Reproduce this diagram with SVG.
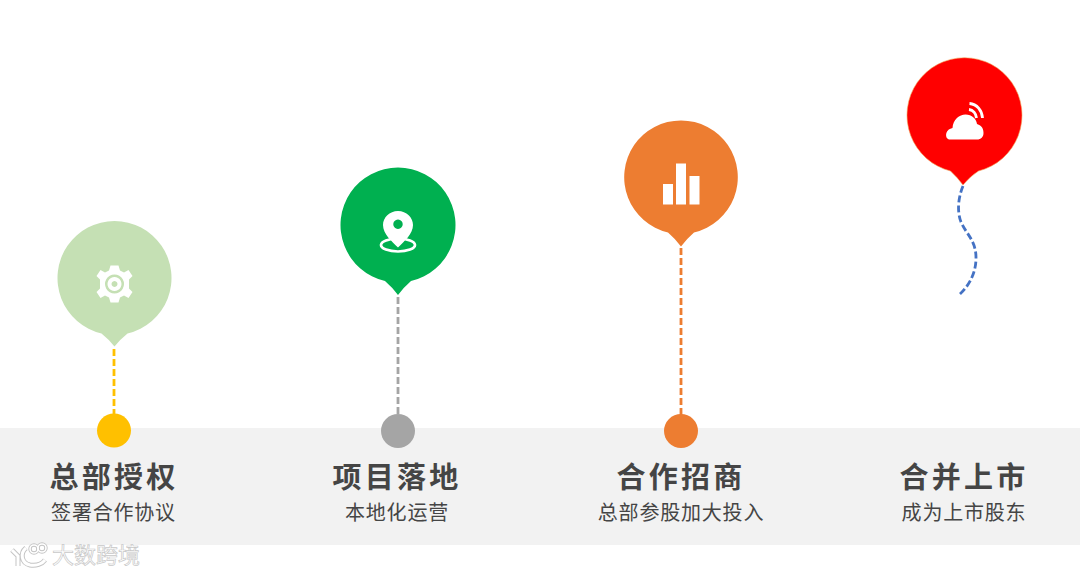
<svg xmlns="http://www.w3.org/2000/svg" width="1080" height="575" viewBox="0 0 1080 575">
<style>
text{font-family:"Noto Sans CJK SC","Noto Sans",sans-serif;text-anchor:middle;fill:#454545}
.t{font-size:29px;font-weight:700;letter-spacing:3.300px}
.s{font-size:20px;letter-spacing:.8px}
.c{fill:none;stroke-width:2.800;stroke-dasharray:7 3}
.w{fill:#fff}
.wm{font-size:22px;fill:#fff;stroke:#c8c8c8;stroke-width:.7;text-anchor:start}
.wb{fill:none;stroke:#c4c4c4}
.wl{fill:none;stroke:#fff}
</style>
<rect id="band" x="0" y="428" width="1080" height="117" fill="#f2f2f2"/>
<g id="connectors">
<path class="c" stroke="#ffc000" d="M114 349V414"/>
<path class="c" stroke="#a5a5a5" d="M398 297V414"/>
<path class="c" stroke="#ed7d31" d="M681 248V415"/>
<path class="c" stroke="#4472c4" d="M963 186C958 198 957 212 961 222C966 234 976 240 976 258C976 272 970 285 959 295"/>
</g>
<g id="node-1">
<path fill="#c5e0b4" d="M101.500 333.500A57 57 0 1 1 127.500 333.500Q120.500 339 114.500 346.500Q108.500 339 101.500 333.500Z"/>
<path class="w" fill-rule="evenodd" transform="translate(114.500 284)" d="M-4-18.500H4L5.500-13.500L9.500-11.500L14-14L18-8L14.500-4.500V4.500L18 8L14 14L9.500 11.500L5.500 13.500L4 18.500H-4L-5.500 13.500L-9.500 11.500L-14 14L-18 8L-14.500 4.500V-4.500L-18-8L-14-14L-9.500-11.500L-5.500-13.500ZM0-9.500A9.500 9.500 0 1 0 .01-9.500ZM0-7A7 7 0 1 1-.01-7ZM0-3A3 3 0 1 0 .01-3Z"/>
</g>
<g id="node-2">
<path fill="#00b050" d="M385 281A57.500 57.500 0 1 1 411 281Q404 287 398 295Q392 287 385 281Z"/>
<path class="w" fill-rule="evenodd" d="M398 211C389.500 211 383 217.500 383 225C383 234 392 241.500 398 247.500C404 241.500 413 234 413 225C413 217.500 406.500 211 398 211ZM398 219.500A4.700 4.700 0 1 1 397.990 219.500Z"/>
<ellipse cx="398" cy="245" rx="17" ry="6.500" fill="none" stroke="#fff" stroke-width="2.700"/>
</g>
<g id="node-3">
<path fill="#ed7d31" d="M668 232.500A56.800 56.800 0 1 1 694 232.500Q687 238.500 681 246.500Q675 238.500 668 232.500Z"/>
<rect class="w" x="663" y="184" width="10" height="20.500"/>
<rect class="w" x="676" y="163.500" width="10" height="41"/>
<rect class="w" x="689.500" y="176" width="10" height="28.500"/>
</g>
<g id="node-4">
<path fill="#ff0000" stroke="#f2a65a" stroke-width=".6" d="M950.500 171A57.500 57.500 0 1 1 978.500 171Q970.500 176 963 185Q957 177 950.500 171Z"/>
<path class="w" d="M950 139.500C944.500 139.500 944.500 129.500 952.500 128C953 119.500 959.500 114.500 965.500 114.500C972 114.500 976.500 119 977 124C982 125.500 983.500 129 983.500 133C983.500 137 981 139.500 977 139.500Z"/>
<path fill="none" stroke="#fff" stroke-width="2.800" d="M969 109.500C973 110 976 113.500 976.500 118M969.500 103.500C977 104 982 110.500 982.500 118"/>
</g>
<g id="dot-1"><circle cx="114" cy="430.500" r="17" fill="#ffc000"/></g>
<g id="dot-2"><circle cx="398" cy="431" r="17" fill="#a5a5a5"/></g>
<g id="dot-3"><circle cx="681" cy="431" r="17" fill="#ed7d31"/></g>
<g id="label-1"><text class="t" x="114" y="488">总部授权</text><text class="s" x="113.500" y="520">签署合作协议</text></g>
<g id="label-2"><text class="t" x="397" y="488">项目落地</text><text class="s" x="397" y="520">本地化运营</text></g>
<g id="label-3"><text class="t" x="681" y="488">合作招商</text><text class="s" x="681" y="520">总部参股加大投入</text></g>
<g id="label-4"><text class="t" x="964" y="488">合并上市</text><text class="s" x="964" y="520">成为上市股东</text></g>
<g id="watermark">
<path class="wb" stroke-width="5" d="M12 550L18 556V566M26 548C20 553 21 563 30 565C36 566 42 564 45 560"/>
<path class="wl" stroke-width="3" d="M12 550L18 556V566M26 548C20 553 21 563 30 565C36 566 42 564 45 560"/>
<circle class="wb" stroke-width="3.400" cx="34" cy="549" r="4"/><circle class="wb" stroke-width="3.400" cx="42" cy="548" r="4"/>
<circle class="wl" stroke-width="1.600" cx="34" cy="549" r="4"/><circle class="wl" stroke-width="1.600" cx="42" cy="548" r="4"/>
<text class="wm" x="52" y="563">大数跨境</text>
</g>
</svg>
